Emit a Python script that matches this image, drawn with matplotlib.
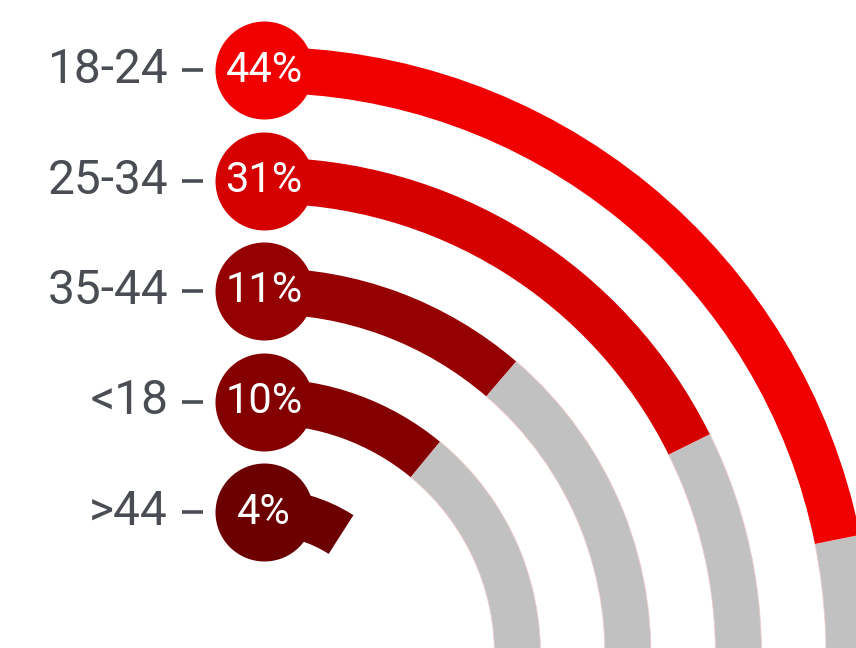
import numpy as np
import matplotlib
matplotlib.use("Agg")
import matplotlib.pyplot as plt
from matplotlib.transforms import offset_copy

plt.rcParams['font.family'] = ['Roboto', 'DejaVu Sans']

# data
categories = ['18-24', '25-34', '35-44', '<18', '>44']
values = [44, 31, 11, 10, 4]
colors = ['#f00000', '#d50000', '#950000', '#840000', '#6c0000']
show_track = [True, True, True, True, False]

track_color = '#c1c1c1'
label_color = '#4a4e54'

# layout (pixels)
W, H, DPI = 856, 648, 100
CX, CY = 264, 655          # ring centre, pixels from top-left
R_OUTER = 585              # radius of the first band centre
STEP = 110.5               # spacing between bands
BAND = 46                  # band thickness
RMAX = 660

THETA0 = 28.0              # angular scale: degrees at value 0
DEG_PER_PCT = 1.15


def value_to_theta(v):
    return np.deg2rad(THETA0 + DEG_PER_PCT * v)


fig = plt.figure(figsize=(W / DPI, H / DPI), dpi=DPI)
ax = fig.add_axes([(CX - RMAX) / W, (H - CY - RMAX) / H,
                   2 * RMAX / W, 2 * RMAX / H], projection='polar')
ax.set_theta_zero_location('N')
ax.set_theta_direction(-1)
ax.set_ylim(0, RMAX)
ax.axis('off')

tick_trans = offset_copy(ax.transData, fig=fig, x=-72, y=0, units='dots')

for i, (cat, val, col) in enumerate(zip(categories, values, colors)):
    r = R_OUTER - i * STEP
    t_end = value_to_theta(val)
    if show_track[i]:
        ax.bar(t_end, BAND, width=np.pi / 2 + 0.1 - t_end, bottom=r - BAND / 2,
               align='edge', color=track_color, edgecolor='#f0c8c8',
               linewidth=0.6, zorder=1)
    ax.bar(0, BAND, width=t_end, bottom=r - BAND / 2, align='edge',
           color=col, linewidth=0, zorder=2)
    ax.scatter([0], [r], s=(98 * 72 / DPI) ** 2, color=col, linewidths=0,
               zorder=3, clip_on=False)
    ax.text(0, r, f'{val}%', ha='center', va='center', color='white',
            fontsize=30, zorder=4)
    # tick mark and category label
    ax.plot([0], [r], marker='_', markersize=21 * 72 / DPI,
            markeredgewidth=3.6 * 72 / DPI, color=label_color,
            transform=tick_trans, clip_on=False)
    ax.annotate(cat, xy=(0, r), xytext=(-96, 0), textcoords='offset pixels',
                ha='right', va='center', color=label_color, fontsize=34.5,
                annotation_clip=False)

fig.savefig('out.png', dpi=DPI)
